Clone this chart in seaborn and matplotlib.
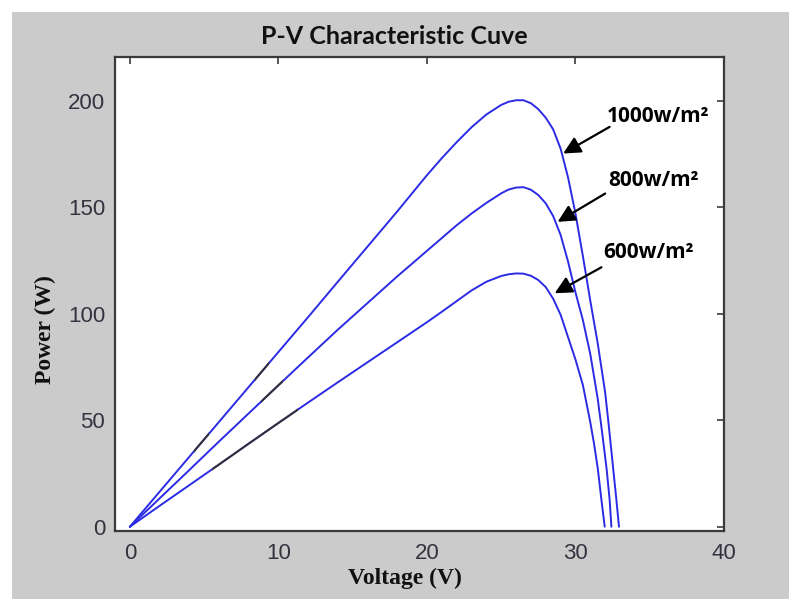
import numpy as np
import pandas as pd
import seaborn as sns
import matplotlib
matplotlib.use("Agg")
import matplotlib.pyplot as plt
from matplotlib.patches import Rectangle

# Power vs. voltage readings for three irradiance levels
v_1000 = [0, 2, 4, 6, 8, 10, 12, 14, 16, 18, 19, 20, 21, 22, 23, 24, 25, 25.5, 26, 26.5,
          27, 27.5, 28, 28.5, 29, 29.5, 30, 30.5, 31, 31.5, 32, 32.25, 32.5, 32.75, 32.93]
p_1000 = [0, 16.4, 32.8, 49.2, 65.6, 82, 98.4, 115, 131.5, 148, 156.5, 165, 173, 180.5,
          187.5, 193.5, 198, 199.5, 200.2, 200.2, 198.8, 196, 192, 186.5, 177.5, 164, 147,
          127, 106, 86, 63, 47, 30, 13, 0]

v_800 = [0, 2, 4, 6, 8, 10, 12, 14, 16, 18, 19, 20, 21, 22, 23, 24, 25, 25.5, 26, 26.5,
         27, 27.5, 28, 28.5, 29, 29.5, 30, 30.5, 31, 31.5, 31.8, 32.1, 32.3, 32.42]
p_800 = [0, 13.3, 26.6, 40, 53.2, 66.4, 79.5, 92.5, 105, 117.5, 123.5, 129.5, 135.5, 141.5,
         147, 152, 156.5, 158.3, 159.2, 159.4, 158.2, 155.7, 151.8, 145.8, 137, 124.5, 110,
         97, 81, 60, 44, 27, 12.7, 0]

v_600 = [0, 2, 4, 6, 8, 10, 12, 14, 16, 18, 20, 21, 22, 23, 24, 25, 25.5, 26, 26.5,
         27, 27.5, 28, 28.5, 29, 29.5, 30, 30.5, 31, 31.25, 31.5, 31.75, 31.97]
p_600 = [0, 9.8, 19.5, 29.2, 39, 48.7, 58.3, 67.8, 77.2, 86.6, 96, 100.9, 105.9, 110.9,
         115, 117.7, 118.5, 118.9, 118.8, 117.8, 115.8, 112.5, 107, 99.5, 89, 78.5, 66.5,
         49, 39, 27.5, 12.5, 0]

irradiance_labels = ["1000", "800", "600"]

# Short stretches of each trace that are rendered darker (voltage ranges)
dark_ranges = {
    "1000": [(4.3, 5.3), (8.4, 9.4)],
    "800": [(8.8, 10.3)],
    "600": [(5.5, 11.3)],
}

# Annotation placement: arrow tip on the curve, arrow tail, label anchor
arrow_tips = {"1000": (29.17, 175.2), "800": (28.8, 143.1), "600": (28.6, 109.6)}
arrow_tails = {"1000": (32.3, 187.7), "800": (32.0, 156.4), "600": (31.75, 121.8)}
label_pos = {"1000": (32.1, 192.5), "800": (32.2, 162.5), "600": (31.9, 128.5)}

frames = []
for lab, v, p in zip(irradiance_labels, [v_1000, v_800, v_600], [p_1000, p_800, p_600]):
    frames.append(pd.DataFrame({"Voltage": v, "Power": p, "G": lab}))
df = pd.concat(frames, ignore_index=True)

sns.set_theme(style="white")
plt.rcParams["font.family"] = ["Liberation Sans", "DejaVu Sans"]

W, H = 789, 599
fig = plt.figure(figsize=(W / 100, H / 100), dpi=100, facecolor="white")

# grey panel behind the axes
panel_left, panel_top = 12, 12
fig.patches.append(Rectangle((panel_left / W, 0), 1 - panel_left / W, 1 - panel_top / H,
                             transform=fig.transFigure, facecolor="#cbcbcb",
                             edgecolor="none", zorder=-10))

ax_l, ax_r, ax_t, ax_b = 115, 724, 57, 531
ax = fig.add_axes([ax_l / W, 1 - ax_b / H, (ax_r - ax_l) / W, (ax_b - ax_t) / H])
ax.set_zorder(2)
ax.set_facecolor("white")

blue = "#2b2be6"
sns.lineplot(data=df, x="Voltage", y="Power", hue="G", palette=[blue] * 3,
             sort=False, estimator=None, legend=False, linewidth=1.4, ax=ax)

# darker stretches drawn on top, clipped to voltage windows
for lab, v, p in zip(irradiance_labels, [v_1000, v_800, v_600], [p_1000, p_800, p_600]):
    for v0, v1 in dark_ranges[lab]:
        ln, = ax.plot(v, p, color="#333333", linewidth=1.4, zorder=3)
        clip = Rectangle((v0, -10), v1 - v0, 300, transform=ax.transData)
        ln.set_clip_path(clip)

ax.set_xlim(-1, 40)
ax.set_ylim(-2, 220.5)
ax.set_xticks([0, 10, 20, 30, 40])
ax.set_yticks([0, 50, 100, 150, 200])
ax.set_xlabel("")
ax.set_ylabel("")

for s in ax.spines.values():
    s.set_visible(True)
    s.set_color("#3a3a3a")
    s.set_linewidth(1.6)

ax.tick_params(axis="both", direction="in", length=5, width=1.2, color="#3a3a3a",
               top=True, right=True, labelsize=16, labelcolor="#333340")
ax.tick_params(axis="x", pad=8.5)
ax.tick_params(axis="y", pad=7)

# curve annotations
for lab in irradiance_labels:
    ax.annotate("", xy=arrow_tips[lab], xytext=arrow_tails[lab],
                arrowprops=dict(arrowstyle="-|>", color="black", lw=1.6,
                                mutation_scale=26, shrinkA=0, shrinkB=0))
    ax.text(label_pos[lab][0], label_pos[lab][1], lab + "w/m\u00b2",
            fontsize=15, fontweight="bold", family=["Open Sans", "DejaVu Sans"],
            ha="left", va="center", color="black")

fig.text(394 / W, 1 - 37 / H, "P-V Characteristic Cuve", ha="center", va="center",
         fontsize=18, fontweight="bold", family=["Lato", "Liberation Sans", "DejaVu Sans"],
         color="#111111")
fig.text(405 / W, 1 - 578 / H, "Voltage (V)", ha="center", va="center",
         fontsize=17, fontweight="bold", family=["Liberation Serif", "DejaVu Serif"],
         color="#111111")
fig.text(45 / W, 1 - 330 / H, "Power (W)", ha="center", va="center", rotation=90,
         fontsize=17, fontweight="bold", family=["Liberation Serif", "DejaVu Serif"],
         color="#111111")

fig.savefig("out.png", dpi=100, facecolor=fig.get_facecolor())
